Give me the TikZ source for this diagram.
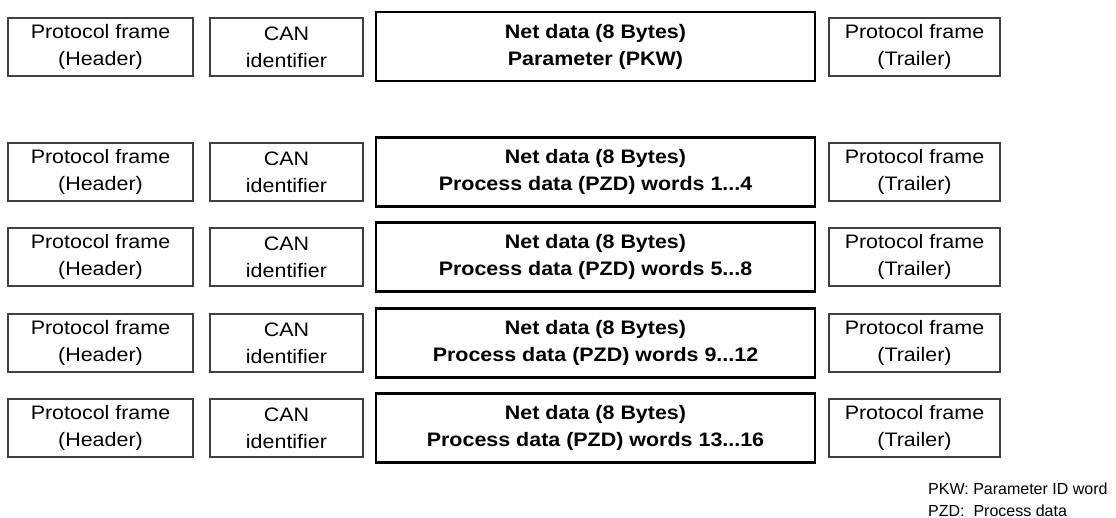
\documentclass[tikz,border=0pt]{standalone}
\usepackage{fontspec}
\setmainfont{Liberation Sans}[FakeStretch=1.1]
\newfontfamily\legendfont{Liberation Sans}
\tikzset{
  framebox/.style={draw=black!75,line width=1.1pt,minimum width=185pt,minimum height=58pt,
    inner sep=0pt,align=center,font=\fontsize{19.5}{27}\selectfont},
  canbox/.style={framebox,minimum width=153pt},
  trailbox/.style={framebox,minimum width=171pt},
  netbox/.style={draw,line width=2.6pt,minimum width=439pt,minimum height=69pt,
    inner sep=0pt,align=center,font=\fontsize{19.5}{27}\selectfont\bfseries},
}

\begin{document}
\begin{tikzpicture}[x=1pt,y=-1pt]
    \useasboundingbox (0,0) rectangle (1116,518);
    % parameter telegram
    \node[framebox] (hdr1) at (100.5,47) {Protocol frame\\(Header)};
    \node[canbox] (can1) at (286.5,47) {CAN\\identifier};
    \node[netbox] (net1) at (595.5,46.5) {Net data (8 Bytes)\\Parameter (PKW)};
    \node[trailbox] (trl1) at (914.5,47) {Protocol frame\\(Trailer)};
    % process data telegrams
    \foreach \n/\y/\a/\b in {2/172/1/4,3/257/5/8,4/343/9/12,5/428/13/16} {
      \node[framebox] (hdr\n) at (100.5,\y) {Protocol frame\\(Header)};
      \node[canbox] (can\n) at (286.5,\y) {CAN\\identifier};
      \node[netbox] (net\n) at (595.5,\y) {Net data (8 Bytes)\\Process data (PZD) words \a...\b};
      \node[trailbox] (trl\n) at (914.5,\y) {Protocol frame\\(Trailer)};
    }
    \node[anchor=north west,align=left,inner sep=0pt,
      font=\legendfont\fontsize{16}{22}\selectfont] (legend) at (928,483)
      {PKW: Parameter ID word\\PZD:\ \ Process data};
\end{tikzpicture}
\end{document}
